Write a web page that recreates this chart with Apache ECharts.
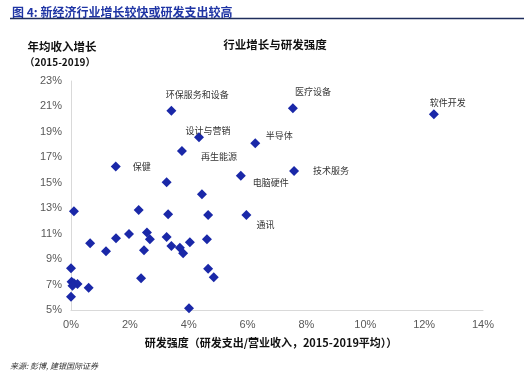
<!DOCTYPE html>
<html><head><meta charset="utf-8">
<script src="https://cdn.jsdelivr.net/npm/echarts@6/dist/echarts.min.js"></script>
<style>html,body{margin:0;padding:0;background:#fff}#c{width:524px;height:378px}</style>
</head><body><div id="c"></div>
<script>
// Data (x: R&D intensity %, y: annual revenue growth %)
const rdIntensity = [3.41,7.54,12.33,4.35,6.26,3.77,1.52,7.58,5.77,3.25,4.45,0.10,2.30,3.30,4.66,5.96,1.97,2.58,2.68,1.53,0.65,1.19,2.48,3.25,3.41,3.70,3.81,4.04,4.62,4.66,4.85,2.38,0.00,0.02,0.10,0.22,0.60,0.00,0.05,4.01];
const revenueGrowth = [20.67,20.86,20.38,18.58,18.10,17.50,16.27,15.93,15.56,15.04,14.09,12.76,12.86,12.52,12.47,12.47,10.97,11.10,10.56,10.64,10.24,9.61,9.69,10.74,10.03,9.90,9.46,10.32,10.56,8.25,7.57,7.49,8.28,7.22,7.10,7.05,6.75,6.05,6.90,5.13];
const industryNames = ['环保服务和设备','医疗设备','软件开发','设计与营销','半导体','再生能源','保健','技术服务','电脑硬件','','','','','','','通讯'];
const xTicks = [0,2,4,6,8,10,12,14];
const yTicks = [5,7,9,11,13,15,17,19,21,23];
// label placement (layout only)
const labelOffsets = [[26,-16],[20,-17],[14,-12],[9,-7],[24,-8],[37,6],[26,0],[37,0],[30,7],null,null,null,null,null,null,[19,10]];

const data = rdIntensity.map((x,i)=>{
  const item = {value:[x, revenueGrowth[i]], name: industryNames[i] || ''};
  if (industryNames[i]) {
    item.label = {show:true, position:'inside', offset: labelOffsets[i], formatter: industryNames[i],
      color:'#333', fontSize:9, fontFamily:'Noto Sans CJK SC'};
  }
  return item;
});

const chart = echarts.init(document.getElementById('c'), null, {renderer:'canvas'});
const axisLabel = {color:'#595959', fontSize:11, fontFamily:'Liberation Sans, Arial', formatter:'{value}%'};
chart.setOption({
  animation:false,
  grid:{left:71, right:41, top:81, bottom:68, containLabel:false},
  xAxis:{type:'value', min:xTicks[0], max:xTicks[xTicks.length-1], interval:2,
    axisLine:{show:true, lineStyle:{color:'#D9D9D9'}}, axisTick:{show:false}, splitLine:{show:false},
    axisLabel:Object.assign({margin:9}, axisLabel)},
  yAxis:{type:'value', min:yTicks[0], max:yTicks[yTicks.length-1], interval:2,
    axisLine:{show:true, lineStyle:{color:'#D9D9D9'}}, axisTick:{show:false}, splitLine:{show:false},
    axisLabel:Object.assign({margin:9}, axisLabel)},
  series:[{type:'scatter', symbol:'diamond', symbolSize:10, data:data,
    itemStyle:{color:'#1A28A8', opacity:1}, label:{show:false}}],
  graphic:[
    {type:'text', left:12, top:6, style:{text:'图 4: 新经济行业增长较快或研发支出较高', fill:'#1F35A5', font:'bold 12px "Noto Sans CJK SC"'}},
    {type:'line', shape:{x1:10, y1:18.5, x2:524, y2:18.5}, style:{stroke:'#1F2D5C', lineWidth:1.5}},
    {type:'text', x:275, y:45, style:{text:'行业增长与研发强度', fill:'#111', font:'bold 11.5px "Noto Sans CJK SC"', textAlign:'center', textVerticalAlign:'middle'}},
    {type:'text', x:62, y:47, style:{text:'年均收入增长', fill:'#111', font:'bold 11.5px "Noto Sans CJK SC"', textAlign:'center', textVerticalAlign:'middle'}},
    {type:'text', x:60, y:62, style:{text:'（2015-2019）', fill:'#111', font:'bold 10px "Noto Sans CJK SC"', textAlign:'center', textVerticalAlign:'middle'}},
    {type:'text', x:271, y:343, style:{text:'研发强度（研发支出/营业收入，2015-2019平均））', fill:'#111', font:'bold 11px "Noto Sans CJK SC"', textAlign:'center', textVerticalAlign:'middle'}},
    {type:'text', x:10, y:366, style:{text:'来源: 彭博, 建银国际证券', fill:'#333', font:'italic 8px "Noto Sans CJK SC"', textVerticalAlign:'middle'}}
  ]
});
</script></body></html>
